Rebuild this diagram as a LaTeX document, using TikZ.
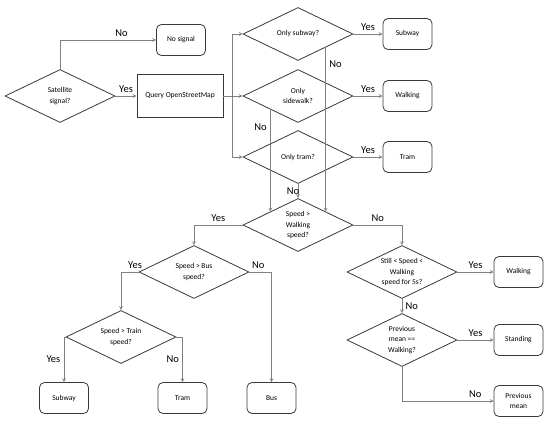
\documentclass[tikz,border=0pt]{standalone}
\usepackage{fontspec}
\setmainfont{Carlito}
\definecolor{linegray}{rgb}{0.5, 0.5, 0.5}
\definecolor{boxgray}{rgb}{0.22, 0.22, 0.22}
\usetikzlibrary{
    arrows.meta,
    shapes.geometric,
    calc
}
\tikzstyle{decision} = [
    diamond,
    draw=boxgray,
    line width=0.8pt,
    aspect=2,
    minimum width=110pt,
    minimum height=53pt,
    inner sep=0pt,
    align=center,
    font=\fontsize{7.5}{10.5}\selectfont
]
\tikzstyle{result} = [
    rectangle,
    rounded corners=5pt,
    draw=boxgray,
    line width=0.8pt,
    minimum width=49pt,
    minimum height=31pt,
    align=center,
    font=\fontsize{7.5}{10.5}\selectfont
]
\tikzstyle{process} = [
    rectangle,
    draw=boxgray,
    line width=0.8pt,
    minimum width=86pt,
    minimum height=43pt,
    font=\fontsize{7.5}{10.5}\selectfont
]
\tikzstyle{arrow} = [
    ->,
    >=stealth,
    line width=0.7pt,
    draw=linegray
]
\tikzstyle{answer} = [
    font=\fontsize{10.5}{12}\selectfont
]

\begin{document}
\begin{tikzpicture}[x=1pt, y=-1pt]
        \useasboundingbox (0,0) rectangle (550,423);

        % Satellite check
        \node[decision] (sat) at (60,96) {Satellite\\signal?};
        \node[result] (nosig) at (181,40) {No signal};
        \node[process] (osm) at (180,96) {Query OpenStreetMap};
        \draw[arrow] (sat.north) |- node[answer, pos=0.82, above] {No} (nosig.west);
        \draw[arrow] (sat.east) -- node[answer, above] {Yes} (osm.west);

        % Map queries
        \node[decision] (subq) at (298,34) {Only subway?};
        \node[decision] (sidq) at (298,96) {Only\\sidewalk?};
        \node[decision] (tramq) at (298,157) {Only tram?};
        \coordinate (split) at (232,96);
        \draw[arrow] (osm.east) -- (sidq.west);
        \draw[arrow] (split) |- (subq.west);
        \draw[arrow] (split) |- (tramq.west);

        \node[result] (subres) at (407.5,34) {Subway};
        \node[result] (walkres) at (407.5,96) {Walking};
        \node[result] (tramres) at (407.5,157) {Tram};
        \draw[arrow] (subq.east) -- node[answer, above] {Yes} (subres.west);
        \draw[arrow] (sidq.east) -- node[answer, above] {Yes} (walkres.west);
        \draw[arrow] (tramq.east) -- node[answer, above] {Yes} (tramres.west);

        % Speed checks
        \node[decision] (walkq) at (298,225) {Speed >\\Walking\\speed?};
        \draw[arrow] (subq.south east) -- node[answer, pos=0.1, right] {No} (walkq.north east);
        \draw[arrow] (sidq.south west) -- node[answer, pos=0.17, left] {No} (walkq.north west);
        \draw[arrow] (tramq.south) -- node[answer, xshift=-5pt] {No} (walkq.north);

        \node[decision] (busq) at (194,272) {Speed > Bus\\speed?};
        \node[decision] (trainq) at (121,337) {Speed > Train\\speed?};
        \draw[arrow] (walkq.west) -| node[answer, pos=0.25, above] {Yes} (busq.north);
        \draw[arrow] (busq.west) -| node[answer, pos=0.1, above] {Yes} (trainq.north);

        \node[result] (subfast) at (64,398) {Subway};
        \node[result] (tramfast) at (182.5,398) {Tram};
        \node[result] (busres) at (271.5,398) {Bus};
        \draw[arrow] (trainq.west) -| node[answer, pos=0.75, left] {Yes} (subfast.north);
        \draw[arrow] (trainq.east) -| node[answer, pos=0.75, left] {No} (tramfast.north);
        \draw[arrow] (busq.east) -| node[answer, pos=0.2, above] {No} (busres.north);

        % Slow movement
        \node[decision] (stillq) at (402,272) {Still < Speed <\\Walking\\speed for 5s?};
        \node[decision] (prevq) at (402,340) {Previous\\mean ==\\Walking?};
        \draw[arrow] (walkq.east) -| node[answer, pos=0.25, above] {No} (stillq.north);
        \draw[arrow] (stillq.south) -- node[answer, right] {No} (prevq.north);

        \node[result] (walkslow) at (518.5,272) {Walking};
        \node[result] (standres) at (518.5,340) {Standing};
        \node[result] (prevres) at (518.5,401) {Previous\\mean};
        \draw[arrow] (stillq.east) -- node[answer, above] {Yes} (walkslow.west);
        \draw[arrow] (prevq.east) -- node[answer, above] {Yes} (standres.west);
        \draw[arrow] (prevq.south) |- node[answer, pos=0.9, above] {No} (prevres.west);
\end{tikzpicture}
\end{document}
